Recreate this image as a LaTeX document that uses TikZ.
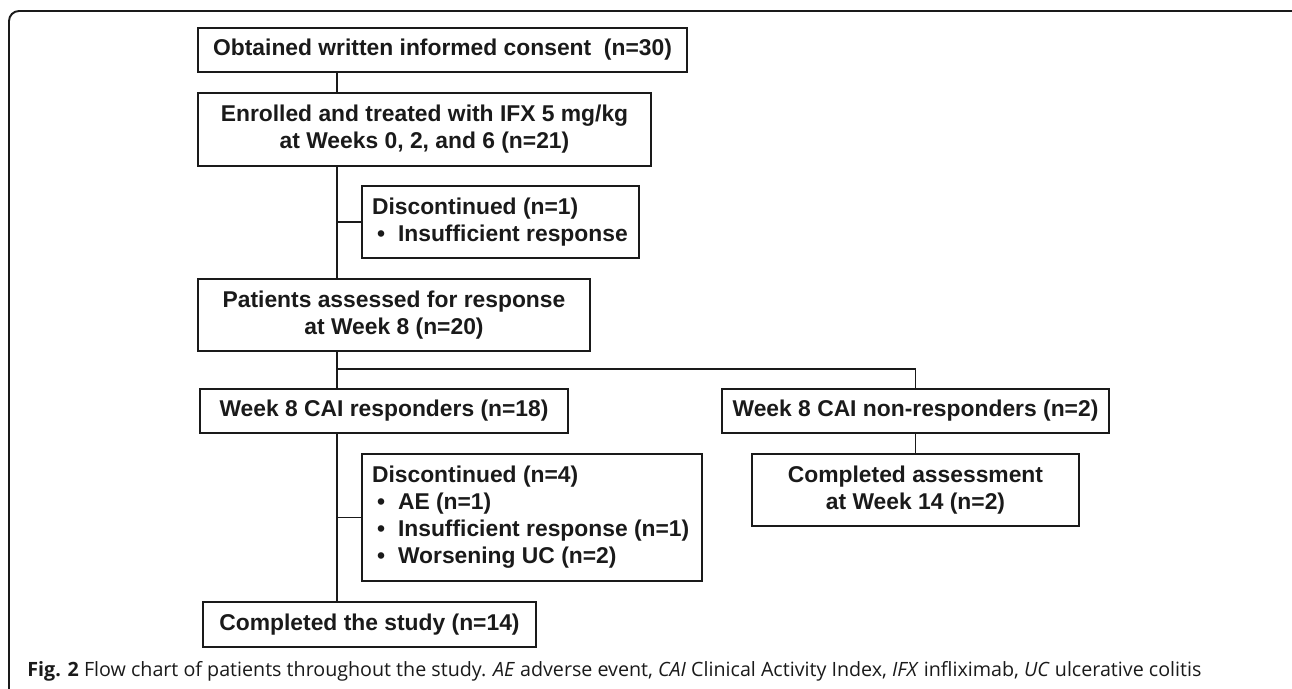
\documentclass[tikz,border=0pt]{standalone}
\usepackage{fontspec}
\setmainfont{Liberation Sans}
\newfontfamily\capfont{Open Sans}
\usetikzlibrary{calc,positioning}
\usepackage{xcolor}
\definecolor{ink}{HTML}{1A1A1A}
\tikzset{
	box/.style={draw=ink, line width=0.9pt, text=ink, align=center, inner sep=0pt,
		font=\fontsize{13}{15.4}\selectfont\bfseries},
	listbox/.style={box, align=flush left, inner xsep=0.2cm},
	link/.style={draw=ink, line width=0.8pt}
}
\newcommand{\itm}{\makebox[0.52cm][l]{\hspace{0.1cm}\textbullet}}

\begin{document}
\begin{tikzpicture}[x=0.02cm,y=-0.02cm]
		\useasboundingbox (0,0) rectangle (1292,689);
		\draw[ink, line width=1.1pt, rounded corners=0.2cm] (9,11) rectangle (1320,720);
		\coordinate (T) at (337,0);
		\coordinate (S) at (337,369);
		\node[box, minimum width=9.78cm, minimum height=0.88cm] (consent) at (442.5,50) {Obtained written informed consent\ \ (n=30)};
		\node[box, minimum width=9.06cm, minimum height=1.46cm] (enrolled) at (424.5,129.5) {Enrolled and treated with IFX 5 mg/kg\\at Weeks 0, 2, and 6 (n=21)};
		\node[listbox, text width=5.14cm, minimum height=1.44cm] (disc1) at (500.5,222) {Discontinued (n=1)\\\itm Insufficient response};
		\node[box, minimum width=7.84cm, minimum height=1.44cm] (patients) at (394,315) {Patients assessed for response\\at Week 8 (n=20)};
		\node[box, minimum width=7.36cm, minimum height=0.88cm] (resp) at (384,411) {Week 8 CAI responders (n=18)};
		\node[box, minimum width=7.74cm, minimum height=0.88cm] (nonresp) at (915.5,411) {Week 8 CAI non-responders (n=2)};
		\node[listbox, text width=6.4cm, minimum height=2.54cm] (disc4) at (532,517.5) {Discontinued (n=4)\\\itm AE (n=1)\\\itm Insufficient response (n=1)\\\itm Worsening UC (n=2)};
		\node[box, minimum width=6.54cm, minimum height=1.44cm] (assess) at (915.5,490) {Completed assessment\\at Week 14 (n=2)};
		\node[box, minimum width=6.66cm, minimum height=0.9cm] (study) at (369.5,624.5) {Completed the study (n=14)};
		\draw[link] (consent.south -| T) -- (enrolled.north -| T);
		\draw[link] (enrolled.south -| T) -- (patients.north -| T);
		\draw[link] (disc1.west) -- (disc1.west -| T);
		\draw[link] (patients.south -| T) -- (resp.north -| T);
		\draw[link] (S) -| (nonresp.north);
		\draw[link] (nonresp.south) -- (assess.north);
		\draw[link] (resp.south -| T) -- (study.north -| T);
		\draw[link] (disc4.west) -- (disc4.west -| T);
		\node[anchor=base west, inner sep=0pt, text=ink, font=\capfont\fontsize{11.2}{13}\selectfont] (caption) at (27,676) {\textbf{Fig. 2} Flow chart of patients throughout the study. \textit{AE} adverse event, \textit{CAI} Clinical Activity Index, \textit{IFX} infliximab, \textit{UC} ulcerative colitis};
\end{tikzpicture}
\end{document}
